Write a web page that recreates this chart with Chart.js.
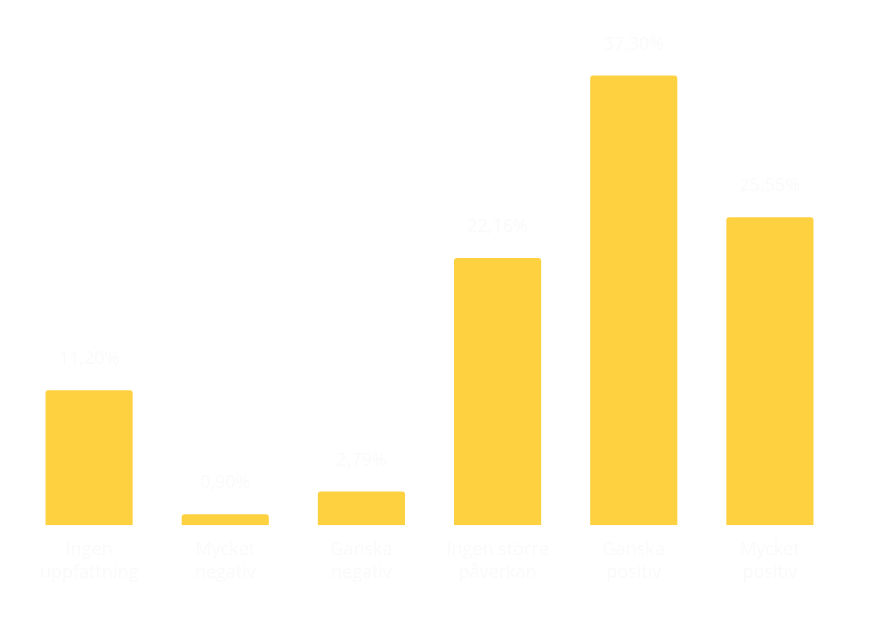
<!DOCTYPE html>
<html><head><meta charset="utf-8">
<script src="https://cdn.jsdelivr.net/npm/chart.js@4/dist/chart.umd.min.js"></script>
<style>html,body{margin:0;padding:0;background:#fff}#w{width:892px;height:617px}</style>
</head><body><div id="w"><canvas id="c"></canvas></div>
<script>
const categories = [["Ingen","uppfattning"],["Mycket","negativ"],["Ganska","negativ"],["Ingen större","påverkan"],["Ganska","positiv"],["Mycket","positiv"]];
const values = [11.20, 0.90, 2.79, 22.16, 37.30, 25.55];
const valueLabels = ["11,20%","0,90%","2,79%","22,16%","37,30%","25,55%"];
const textColor = '#fafafa';
const fontFamily = '"Open Sans", Arial, sans-serif';

const labelPlugin = {
  id: 'vlabels',
  afterDatasetsDraw(chart) {
    const ctx = chart.ctx;
    const meta = chart.getDatasetMeta(0);
    ctx.save();
    ctx.font = '18px ' + fontFamily;
    ctx.fillStyle = textColor;
    ctx.textAlign = 'center';
    ctx.textBaseline = 'middle';
    meta.data.forEach((bar, i) => {
      ctx.fillText(valueLabels[i], bar.x, bar.y - 31);
    });
    ctx.restore();
  }
};

new Chart(document.getElementById('c'), {
  type: 'bar',
  data: { labels: categories, datasets: [{ data: values, backgroundColor: '#FED141', borderRadius: 3, borderSkipped: 'bottom', barPercentage: 0.8, categoryPercentage: 0.8 }] },
  options: {
    responsive: true, maintainAspectRatio: false, animation: false,
    layout: { padding: { top: 43, left: 21, right: 54, bottom: 19 } },
    plugins: { legend: { display: false }, tooltip: { enabled: false } },
    scales: {
      x: { grid: { display: false, drawTicks: false }, border: { display: false },
           ticks: { color: textColor, font: { size: 18, family: fontFamily, lineHeight: 1.3 }, padding: 13, maxRotation: 0 } },
      y: { display: false, min: 0, max: 40 }
    }
  },
  plugins: [labelPlugin]
});
</script></body></html>
